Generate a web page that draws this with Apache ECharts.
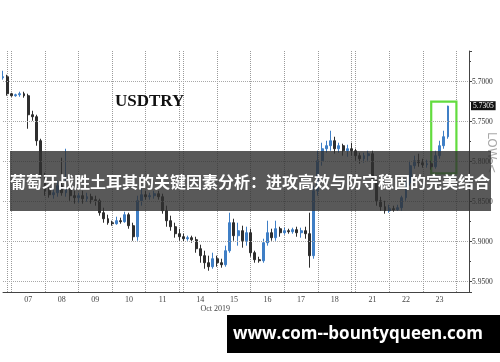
<!DOCTYPE html>
<html>
<head>
<meta charset="utf-8">
<script src="https://cdn.jsdelivr.net/npm/echarts@6/dist/echarts.min.js"></script>
<style>
html,body{margin:0;padding:0;background:#fff;}
#c{width:500px;height:362px;}
</style>
</head>
<body>
<div id="c"></div>
<script>
// ---- time slots (3-hour sessions) ----
const sundayOpen = ['06 18:00', '06 21:00'];
const weekA = ['07', '08', '09', '10', '11'];
const weekB = ['14', '15', '16', '17', '18'];
const weekC = ['21', '22', '23'];
const hours = ['00:00', '03:00', '06:00', '09:00', '12:00', '15:00', '18:00', '21:00'];
const gapA = '13 21:00';
const gapB = '20 21:00';
const tail = ['24 00:00', '24 03:00', '24 06:00', '24 09:00'];

// ---- USDTRY values ----
const opens = [5.695,5.6938,5.715,5.7175,5.7163,5.715,5.7175,5.7413,5.7438,5.7738,
5.8175,5.8363,5.8413,5.8388,5.83,5.8388,5.8338,5.8425,5.845,5.8425,
5.8463,5.8438,5.8475,5.8488,5.8638,5.8713,5.8763,5.8775,5.8738,5.875,
5.8663,5.88,5.8938,5.8488,5.8413,5.8438,5.8425,5.84,5.8438,5.8613,
5.8738,5.8813,5.89,5.8938,5.8963,5.895,5.8975,5.9088,5.9175,5.9263,
5.9313,5.9213,5.9263,5.9288,5.9113,5.8763,5.8925,5.8863,5.8988,5.8888,
5.9138,5.9225,5.9238,5.9013,5.8888,5.895,5.8838,5.8888,5.8863,5.8875,
5.885,5.8888,5.8863,5.89,5.9175,5.8363,5.7988,5.7838,5.78,5.7738,
5.7838,5.78,5.7863,5.7838,5.7863,5.7925,5.7963,5.7925,5.79,5.8238,
5.8488,5.8563,5.8613,5.8588,5.86,5.8575,5.845,5.8263,5.805,5.7988,
5.8013,5.8038,5.8025,5.8063,5.7925,5.78,5.7688];
const closes = [5.6938,5.715,5.7175,5.7163,5.715,5.7175,5.7413,5.7438,5.7738,5.8175,
5.8363,5.8413,5.8388,5.83,5.8388,5.8338,5.8425,5.845,5.8425,5.8463,
5.8438,5.8475,5.8488,5.8638,5.8713,5.8763,5.8775,5.8738,5.875,5.8663,
5.88,5.8938,5.8488,5.8413,5.8438,5.8425,5.84,5.8438,5.8613,5.8738,
5.8813,5.89,5.8938,5.8963,5.895,5.8975,5.9088,5.9175,5.9263,5.9313,
5.9213,5.9263,5.9288,5.9113,5.8763,5.8925,5.8863,5.8988,5.8888,5.9138,
5.9225,5.9238,5.9013,5.8888,5.895,5.8838,5.8888,5.8863,5.8875,5.885,
5.8888,5.8863,5.89,5.9175,5.8363,5.7988,5.7838,5.78,5.7738,5.7838,
5.78,5.7863,5.7838,5.7863,5.7925,5.7963,5.7925,5.79,5.8238,5.8488,
5.8563,5.8613,5.8588,5.86,5.8575,5.845,5.8263,5.805,5.7988,5.8013,
5.8038,5.8025,5.8063,5.7925,5.78,5.7688,5.7305];
const lows = [5.6975,5.7175,5.7188,5.7188,5.7188,5.72,5.7588,5.7488,5.78,5.8238,
5.8425,5.845,5.8463,5.8438,5.8425,5.8438,5.8488,5.8525,5.8513,5.8525,
5.85,5.8525,5.855,5.8675,5.8763,5.8788,5.88,5.8788,5.8775,5.8763,
5.8838,5.8988,5.8988,5.855,5.8475,5.8475,5.8463,5.8475,5.865,5.8813,
5.8863,5.895,5.8988,5.9,5.8988,5.9013,5.9138,5.9263,5.9338,5.9363,
5.9338,5.9313,5.9325,5.9313,5.9138,5.8988,5.905,5.9075,5.905,5.9188,
5.9263,5.9263,5.9263,5.905,5.8988,5.8988,5.8938,5.8913,5.89,5.89,
5.8938,5.895,5.8963,5.9325,5.9213,5.8425,5.805,5.7888,5.7863,5.79,
5.7888,5.7925,5.7938,5.7925,5.7988,5.8025,5.8013,5.7988,5.83,5.855,
5.8613,5.865,5.8638,5.8625,5.8613,5.8613,5.8488,5.83,5.8088,5.8063,
5.8075,5.8075,5.81,5.8088,5.7963,5.7838,5.7713];
const highs = [5.6863,5.6913,5.7138,5.715,5.7125,5.7125,5.715,5.7363,5.7413,5.7713,
5.8138,5.8313,5.8338,5.8238,5.795,5.7838,5.83,5.8363,5.8388,5.8363,
5.8388,5.84,5.8425,5.8463,5.8575,5.8663,5.8738,5.8688,5.87,5.8625,
5.8638,5.8763,5.8425,5.8338,5.8363,5.8388,5.8363,5.8363,5.84,5.855,
5.8675,5.8763,5.8838,5.89,5.8925,5.8925,5.8938,5.9038,5.9113,5.9175,
5.9138,5.9175,5.9213,5.905,5.8638,5.8713,5.8763,5.88,5.8813,5.8838,
5.9113,5.9188,5.8963,5.8738,5.8838,5.8738,5.8813,5.8825,5.8838,5.8825,
5.8813,5.8825,5.8813,5.8638,5.83,5.7863,5.7763,5.7738,5.7613,5.7688,
5.7763,5.7775,5.7788,5.7763,5.7838,5.7888,5.7888,5.7863,5.7863,5.8175,
5.8438,5.8488,5.8538,5.855,5.8538,5.8425,5.8213,5.7988,5.7925,5.79,
5.7963,5.7975,5.7988,5.7863,5.7738,5.7613,5.73];

const yTicks = [5.70, 5.75, 5.80, 5.85, 5.90, 5.95];
const lastPrice = 5.7305;
const boxFrom = [102, 5.725];
const boxTo = [108, 5.8145];
const titleText = 'USDTRY';
const bannerText = '葡萄牙战胜土耳其的关键因素分析：进攻高效与防守稳固的完美结合';
const siteText = 'www.com--bountyqueen.com';

// ---- build categories / series data ----
const categories = [].concat(
  sundayOpen,
  ...weekA.map(d => hours.map(h => d + ' ' + h)),
  [gapA],
  ...weekB.map(d => hours.map(h => d + ' ' + h)),
  [gapB],
  ...weekC.map(d => hours.map(h => d + ' ' + h)),
  tail
);
const ohlc = opens.map((o, i) => [o, closes[i], lows[i], highs[i]]);
const boundarySet = new Set(['06 21:00', gapA, gapB]);
const isBoundary = (idx, v) => v.endsWith('00:00') || boundarySet.has(v);

const serif = '"Liberation Serif", "DejaVu Serif", serif';

const chart = echarts.init(document.getElementById('c'), null, {renderer: 'canvas'});
chart.setOption({
  animation: false,
  backgroundColor: '#ffffff',
  title: {
    text: titleText,
    left: 115, top: 93, padding: 0,
    textStyle: {fontFamily: serif, fontWeight: 'bold', fontSize: 17, color: '#111'}
  },
  grid: {left: 3, right: 31, top: 51, bottom: 70, containLabel: false},
  xAxis: {
    type: 'category',
    data: categories,
    boundaryGap: false,
    axisLine: {show: true, lineStyle: {color: '#444', width: 1}},
    axisTick: {show: false},
    splitLine: {show: true, interval: isBoundary, lineStyle: {color: '#9a9a9a', type: 'dotted', width: 1}},
    axisLabel: {
      interval: (idx, v) => v.endsWith('12:00'),
      margin: 3,
      fontFamily: serif, fontSize: 8, color: '#444', lineHeight: 9,
      formatter: v => {
        const d = v.slice(0, 2);
        return d === '14' ? d + '\n{o|Oct 2019}' : d;
      },
      rich: {o: {fontFamily: serif, fontSize: 8, color: '#444', lineHeight: 9, padding: [0, 0, 0, 30]}}
    }
  },
  yAxis: {
    type: 'value',
    position: 'right',
    inverse: true,
    min: 5.6616,
    max: 5.9629,
    splitNumber: 6,
    scale: true,
    axisLine: {show: true, lineStyle: {color: '#444', width: 1}},
    axisTick: {show: true, length: 3, lineStyle: {color: '#444'}},
    minorTick: {show: true, splitNumber: 2, length: 2, lineStyle: {color: '#444'}},
    splitLine: {show: false},
    axisLabel: {
      showMinLabel: false, showMaxLabel: false,
      margin: 3, fontFamily: serif, fontSize: 7.5, color: '#333',
      formatter: v => v.toFixed(4)
    }
  },
  series: [{
    type: 'candlestick',
    data: ohlc,
    barWidth: 2.4,
    itemStyle: {
      color: '#2e2e2e', color0: '#3f7fc6',
      borderColor: '#2e2e2e', borderColor0: '#3f7fc6', borderWidth: 1
    },
    markLine: {
      silent: true,
      symbol: ['none', 'none'],
      animation: false,
      data: yTicks.map(v => ({
        yAxis: v,
        lineStyle: {color: '#a8a8a8', type: 'dotted', width: 1},
        label: {show: false}
      })).concat([{
        yAxis: lastPrice,
        lineStyle: {color: 'rgba(0,0,0,0)', width: 1},
        label: {
          show: true, position: 'end', distance: 2,
          formatter: lastPrice.toFixed(4),
          backgroundColor: '#111', color: '#fff',
          fontFamily: serif, fontSize: 7.5, padding: [1, 2, 0, 2]
        }
      }])
    },
    markArea: {
      silent: true,
      itemStyle: {color: 'rgba(0,0,0,0)', borderColor: '#62dc3e', borderWidth: 2.2},
      data: [[{xAxis: boxFrom[0], yAxis: boxFrom[1]}, {xAxis: boxTo[0], yAxis: boxTo[1]}]]
    }
  }],
  graphic: [
    {
      type: 'text', z: 50, x: 497, y: 132, rotation: -Math.PI / 2,
      style: {text: 'LOW <', fill: '#a9a9a9', font: '12px "DejaVu Sans", sans-serif', align: 'left', verticalAlign: 'top'}
    },
    {
      type: 'rect', z: 100, left: 10, top: 151,
      shape: {width: 481, height: 60},
      style: {fill: 'rgba(48,48,48,0.8)'}
    },
    {
      type: 'text', z: 101, x: 250, y: 182,
      style: {text: bannerText, fill: '#fff', font: 'bold 16px "Noto Sans CJK SC", sans-serif', align: 'center', verticalAlign: 'middle'}
    },
    {
      type: 'rect', z: 100, left: 227, top: 315,
      shape: {width: 273, height: 38},
      style: {fill: '#000'}
    },
    {
      type: 'text', z: 101, x: 358, y: 334,
      style: {text: siteText, fill: '#fff', font: 'bold 17px "Open Sans", sans-serif', align: 'center', verticalAlign: 'middle'}
    }
  ]
});
</script>
</body>
</html>
